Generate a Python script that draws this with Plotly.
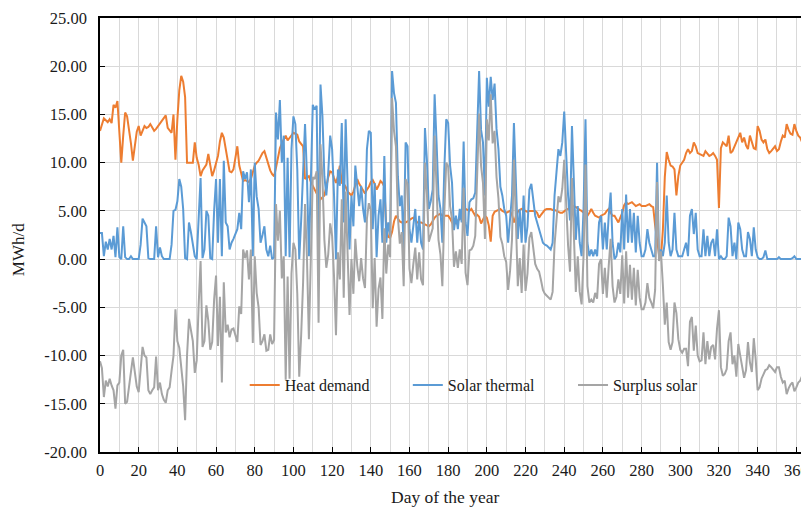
import plotly.graph_objects as go

# Day of the year (0 .. 364)
days = list(range(365))

# Heat demand, MWh/d
heat_demand = [
    13.3, 14.0, 14.6, 14.4, 14.2, 14.5, 14.1, 16.0, 15.7, 16.4,
    13.0, 10.0, 12.8, 15.2, 14.8, 13.5, 12.0, 10.2, 11.8, 13.2,
    13.8, 12.8, 13.3, 13.8, 13.6, 13.7, 14.0, 13.6, 13.3, 13.5,
    13.8, 14.0, 14.3, 14.6, 14.9, 13.6, 13.3, 13.1, 15.0, 10.3,
    14.5, 17.5, 19.0, 18.4, 16.8, 10.0, 10.0, 10.0, 10.0, 12.1,
    10.5, 9.8, 8.6, 9.2, 9.5, 9.8, 10.9, 9.5, 8.6, 9.2,
    10.0, 10.7, 12.2, 13.1, 12.6, 11.4, 10.2, 9.1, 9.0, 9.3,
    10.5, 11.7, 9.7, 8.8, 8.1, 8.2, 8.1, 8.0, 8.3, 9.0,
    9.7, 10.0, 10.2, 10.6, 11.0, 11.2, 10.5, 9.7, 9.2, 8.8,
    8.6, 9.5, 10.5, 11.5, 12.0, 12.5, 12.8, 12.3, 12.6, 12.9,
    13.1, 13.0, 12.9, 12.2, 11.9, 11.7, 8.3, 8.5, 8.6, 8.0,
    7.5, 7.2, 6.8, 6.6, 6.2, 6.4, 6.6, 7.5, 8.5, 9.1,
    9.0, 8.4, 7.9, 8.6, 9.7, 7.9, 7.8, 7.5, 7.0, 6.8,
    6.6, 7.0, 7.6, 8.3, 7.8, 7.5, 7.2, 6.8, 7.2, 7.5,
    8.0, 8.2, 7.8, 7.2, 7.6, 8.1, 7.9, 7.5, 3.2, 2.3,
    2.2, 2.8, 3.9, 4.5, 4.2, 3.9, 3.8, 3.8, 3.8, 3.9,
    4.1, 4.2, 4.3, 4.0, 3.8, 3.8, 3.8, 3.7, 3.6, 3.5,
    3.4, 3.6, 4.0, 4.3, 4.5, 4.6, 4.7, 4.5, 4.5, 4.5,
    4.5, 4.2, 3.8, 3.8, 3.7, 4.0, 4.2, 4.3, 4.8, 5.2,
    5.1, 5.0, 5.2, 4.9, 4.5, 4.6, 4.4, 3.7, 4.2, 4.5,
    4.3, 3.5, 1.8, 4.5, 4.9, 5.0, 5.1, 5.2, 5.0, 4.9,
    4.8, 4.9, 5.0, 4.6, 3.8, 4.4, 4.9, 5.1, 5.2, 5.1,
    5.0, 4.9, 5.0, 5.0, 5.0, 5.0, 4.8, 4.3, 4.6, 4.9,
    5.1, 5.2, 5.2, 5.2, 5.1, 5.1, 5.0, 4.9, 4.8, 4.8,
    5.0, 5.1, 5.2, 5.3, 5.4, 5.5, 5.4, 5.2, 5.1, 5.0,
    4.8, 4.7, 4.5, 4.8, 5.2, 4.8, 4.5, 4.4, 4.3, 4.5,
    4.6, 4.7, 5.0, 5.2, 4.8, 4.5, 4.5, 4.2, 3.8, 4.3,
    4.8, 5.6, 5.9, 5.7, 5.8, 5.9, 5.7, 5.5, 5.6, 5.7,
    5.5, 5.5, 5.5, 5.6, 5.7, 5.5, 5.4, 3.5, 2.0, 0.5,
    0.2, 3.0, 8.5, 11.1, 10.3, 9.7, 9.6, 9.3, 6.6, 8.6,
    9.7, 10.0, 10.3, 11.0, 11.4, 11.0, 11.2, 12.1, 11.7, 11.0,
    10.9, 10.8, 10.7, 11.2, 10.9, 10.7, 10.8, 11.0, 10.7, 10.3,
    5.3, 11.5, 12.1, 11.9, 11.7, 12.8, 11.0, 11.2, 11.7, 12.2,
    12.6, 13.1, 12.1, 12.6, 11.8, 11.4, 12.8, 12.0, 11.5, 11.4,
    13.8, 13.3, 12.4, 12.1, 12.4, 11.4, 11.0, 11.2, 11.4, 11.7,
    11.2, 11.4, 12.2, 12.8, 12.6, 14.0, 13.4, 13.0, 12.9, 14.0,
    13.3, 12.8, 12.6, 12.1, 11.6,
]

# Solar thermal yield, MWh/d
solar_thermal = [
    2.7, 2.7, 0.3, 1.8, 1.0, 2.1, 1.0, 2.4, 0.2, 3.3,
    0.2, 0.0, 3.4, 0.2, 0.0, 0.0, 0.3, 0.0, 0.0, 0.0,
    0.0, 1.5, 4.2, 3.8, 3.4, 0.1, 0.0, 0.0, 0.0, 3.4,
    0.2, 1.2, 0.3, 0.0, 0.0, 0.0, 0.0, 1.5, 5.0, 5.1,
    6.0, 8.3, 7.5, 5.2, 0.1, 0.0, 3.8, 2.8, 1.5, 0.3,
    0.0, 5.0, 8.4, 0.1, 1.0, 5.0, 4.5, 0.1, 0.0, 5.0,
    8.3, 1.7, 8.3, 0.3, 10.2, 3.8, 3.4, 1.0, 1.7, 2.1,
    2.6, 3.1, 4.8, 3.1, 9.1, 8.3, 9.0, 5.9, 9.3, 0.3,
    10.0, 6.5, 5.2, 1.7, 2.5, 3.4, 1.0, 0.3, 1.4, 0.0,
    0.2, 15.2, 12.4, 16.5, 10.0, 12.8, 0.3, 10.5, 0.2, 11.4,
    14.8, 14.0, 9.3, 0.0, 4.0, 9.3, 14.0, 8.6, 0.3, 8.0,
    16.0, 15.5, 15.9, 0.0, 18.1, 14.8, 8.6, 6.6, 9.0, 12.8,
    11.4, 6.6, 0.0, 9.3, 7.6, 14.1, 3.8, 14.5, 8.3, 1.0,
    6.6, 3.4, 9.7, 7.6, 5.5, 7.6, 5.2, 3.8, 11.4, 13.3,
    13.1, 3.1, 7.9, 0.2, 4.5, 6.2, 1.7, 10.7, 1.7, 3.8,
    2.4, 19.5, 17.2, 16.2, 8.6, 5.5, 6.6, 1.0, 12.1, 11.7,
    3.1, 1.7, 3.8, 5.2, 1.7, 4.5, 1.7, 1.0, 13.6, 10.3,
    5.2, 6.0, 7.2, 17.1, 12.1, 6.6, 5.2, 1.7, 9.3, 14.5,
    14.1, 9.7, 7.9, 3.0, 4.5, 3.1, 5.2, 3.8, 12.2, 3.8,
    2.4, 5.9, 6.2, 6.3, 6.9, 12.8, 19.5, 13.4, 12.1, 6.6,
    18.8, 15.8, 18.9, 16.5, 18.2, 13.5, 11.4, 7.5, 6.6, 5.2,
    4.5, 1.7, 3.8, 6.6, 14.1, 8.6, 2.1, 5.2, 1.7, 6.6,
    1.7, 3.4, 7.2, 7.8, 5.9, 4.5, 3.8, 3.0, 2.4, 1.7,
    1.5, 1.4, 1.2, 1.0, 1.7, 6.6, 9.0, 11.4, 10.7, 12.1,
    15.3, 10.3, 6.6, 4.0, 13.8, 8.0, 2.0, 5.5, 1.7, 0.3,
    5.2, 14.5, 1.7, 0.3, 1.0, 0.3, 1.0, 0.3, 3.8, 4.5,
    1.0, 3.8, 1.0, 4.5, 6.9, 1.7, 0.0, 0.3, 1.7, 0.7,
    5.2, 1.0, 6.7, 1.7, 5.2, 1.7, 4.8, 0.7, 4.5, 1.7,
    0.3, 0.3, 1.0, 3.1, 1.7, 1.0, 0.3, 0.3, 10.0, 0.3,
    1.0, 0.3, 1.7, 6.6, 1.7, 0.3, 1.0, 4.8, 1.0, 0.3,
    0.3, 0.3, 1.0, 1.7, 0.3, 4.5, 5.2, 2.6, 4.8, 1.0,
    0.3, 0.3, 3.1, 0.3, 2.4, 0.3, 1.7, 2.1, 0.3, 3.1,
    0.0, 0.3, 0.0, 0.0, 0.3, 4.3, 3.4, 0.3, 1.7, 0.0,
    3.8, 3.1, 1.0, 0.3, 0.3, 2.8, 2.1, 0.3, 3.3, 1.0,
    0.2, 0.0, 0.0, 0.2, 0.9, 0.0, 0.0, 0.0, 0.0, 0.0,
    0.0, 0.2, 0.0, 0.0, 0.0, 0.0, 0.0, 0.0, 0.1, 0.3,
    0.0, 0.0, 0.0, 0.0, 0.0,
]

# Surplus solar = solar thermal yield minus heat demand
surplus_solar = [round(s - h, 2) for s, h in zip(solar_thermal, heat_demand)]

x_tick_vals = list(range(0, 361, 20))
y_tick_vals = list(range(-20, 26, 5))

FONT = "Liberation Serif, Times New Roman, serif"
TXT = "#1a1a1a"
GRID = "#d9d9d9"

fig = go.Figure()
fig.add_trace(go.Scatter(x=days, y=heat_demand, mode="lines", name="Heat demand",
                         line=dict(color="#ED7D31", width=2), legend="legend"))
fig.add_trace(go.Scatter(x=days, y=solar_thermal, mode="lines", name="Solar thermal",
                         line=dict(color="#5B9BD5", width=2), legend="legend2"))
fig.add_trace(go.Scatter(x=days, y=surplus_solar, mode="lines", name="Surplus solar",
                         line=dict(color="#A5A5A5", width=2), legend="legend3"))

leg_common = dict(orientation="h", yanchor="middle", xanchor="left", y=0.154,
                  bgcolor="rgba(0,0,0,0)", font=dict(family=FONT, size=16, color=TXT),
                  itemwidth=30)

# the page body adds an 8px offset, so the figure is drawn 8px smaller
fig.update_layout(
    width=801, height=500,
    margin=dict(l=92, r=3, t=10, b=56, autoexpand=False),
    paper_bgcolor="white", plot_bgcolor="white",
    font=dict(family=FONT, size=16, color=TXT),
    showlegend=True,
    legend=dict(x=0.205, **leg_common),
    legend2=dict(x=0.436, **leg_common),
    legend3=dict(x=0.670, **leg_common),
    xaxis=dict(
        range=[0, 365], tickmode="array", tickvals=x_tick_vals,
        ticktext=[str(v) for v in x_tick_vals],
        showgrid=True, gridcolor=GRID, gridwidth=1,
        minor=dict(dtick=10, tick0=0, showgrid=True, gridcolor=GRID, gridwidth=1),
        ticks="inside", ticklen=5, tickcolor="black", tickwidth=1,
        showline=True, linecolor="black", linewidth=1.5, mirror=True,
        zeroline=False, tickfont=dict(family=FONT, size=16.5, color=TXT),
        ticklabelstandoff=2, automargin=False,
    ),
    yaxis=dict(
        range=[-20, 25], tickmode="array", tickvals=y_tick_vals,
        ticktext=[f"{v:.2f}" for v in y_tick_vals],
        showgrid=True, gridcolor=GRID, gridwidth=1,
        ticks="inside", ticklen=5, tickcolor="black", tickwidth=1,
        showline=True, linecolor="black", linewidth=1.5, mirror=True,
        zeroline=False, tickfont=dict(family=FONT, size=16.5, color=TXT),
        ticklabelstandoff=8, automargin=False,
    ),
    annotations=[
        dict(text="MWh/d", xref="paper", yref="paper", x=-0.1161, y=0.465,
             textangle=-90, showarrow=False, xanchor="center", yanchor="middle",
             font=dict(family=FONT, size=17, color=TXT)),
        dict(text="Day of the year", xref="paper", yref="paper", x=0.49, y=-0.104,
             showarrow=False, xanchor="center", yanchor="middle",
             font=dict(family=FONT, size=17.5, color=TXT)),
    ],
)

fig.write_html("out.html")
